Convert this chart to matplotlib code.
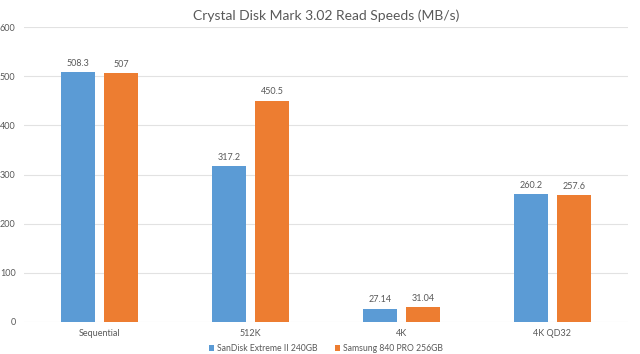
import numpy as np
import matplotlib.pyplot as plt

categories = ['Sequential', '512K', '4K', '4K QD32']
sandisk = [508.3, 317.2, 27.14, 260.2]
samsung = [507, 450.5, 31.04, 257.6]
sandisk_labels = ['508.3', '317.2', '27.14', '260.2']
samsung_labels = ['507', '450.5', '31.04', '257.6']

plt.rcParams['font.family'] = ['Lato', 'DejaVu Sans']
GREY = '#595959'

fig = plt.figure(figsize=(6.4, 3.54), dpi=100)
ax = fig.add_axes([0.0375, 0.0904, 0.9435, 0.8333])

x = np.arange(len(categories))
w = 0.225
off = 0.1425
b1 = ax.bar(x - off, sandisk, w, color='#5B9BD5', label='SanDisk Extreme II 240GB', zorder=3)
b2 = ax.bar(x + off, samsung, w, color='#ED7D31', label='Samsung 840 PRO 256GB', zorder=3)
ax.bar_label(b1, labels=sandisk_labels, padding=3, fontsize=6.5, color=GREY)
ax.bar_label(b2, labels=samsung_labels, padding=3, fontsize=6.5, color=GREY)

ax.set_xlim(-0.5, len(categories) - 0.5)
ax.set_ylim(0, 600)
ax.set_yticks(range(0, 601, 100))
ax.set_xticks(x)
ax.set_xticklabels(categories)
ax.tick_params(axis='both', length=0, labelsize=6.5, colors=GREY)
ax.tick_params(axis='y', pad=6)
ax.tick_params(axis='x', pad=5)
ax.grid(axis='y', color='#E2E2E2', linewidth=0.8, zorder=0)
for s in ax.spines.values():
    s.set_visible(False)

ax.set_title('Crystal Disk Mark 3.02 Read Speeds (MB/s)', fontsize=10, color=GREY, pad=5)
ax.legend(loc='lower center', bbox_to_anchor=(0.5, -0.125), ncol=2, frameon=False,
          fontsize=6.2, labelcolor=GREY, handlelength=0.6, handleheight=0.6,
          handletextpad=0.4, columnspacing=2.0, borderpad=0.2)

fig.savefig('out.png', dpi=100)
